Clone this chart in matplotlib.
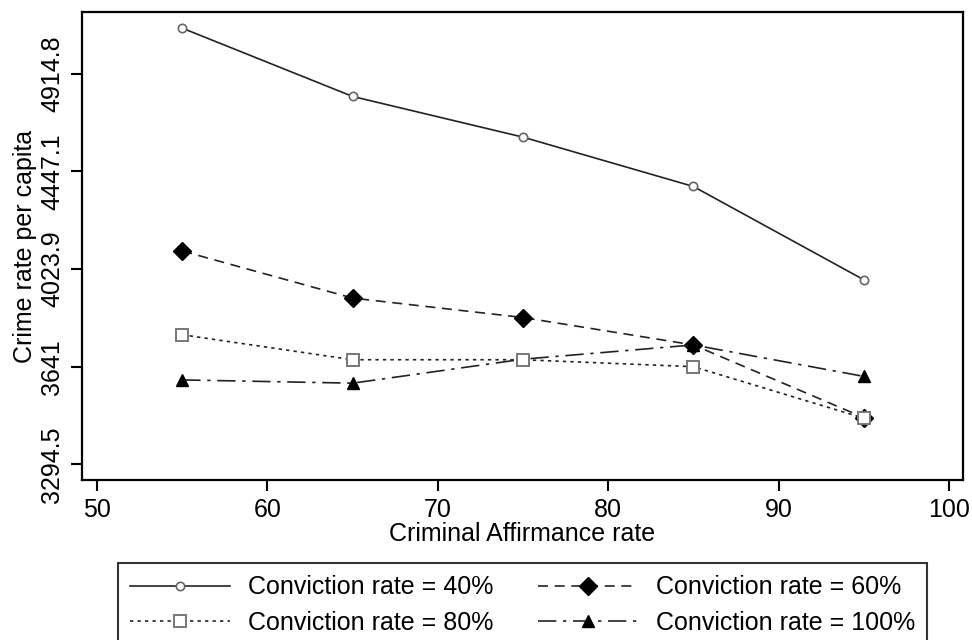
import matplotlib
matplotlib.use("Agg")
import matplotlib.pyplot as plt

plt.rcParams['font.family'] = ['Liberation Sans', 'DejaVu Sans']

affirmance = [55, 65, 75, 85, 95]
crime_40 = [5150, 4802, 4606, 4379, 3980]
crime_60 = [4099, 3906, 3829, 3723, 3456]
crime_80 = [3762, 3667, 3667, 3641, 3454]
crime_100 = [3592, 3580, 3669, 3723, 3605]

ytick_vals = [3294.5, 3641, 4023.9, 4447.1, 4914.8]
ytick_labels = ["3294.5", "3641", "4023.9", "4447.1", "4914.8"]
xtick_vals = [50, 60, 70, 80, 90, 100]

fig = plt.figure(figsize=(9.72, 6.4), dpi=100)
ax = fig.add_axes([0.0844, 0.25, 0.9063, 0.7313])

l40, = ax.plot(affirmance, crime_40, color='#222222', lw=1.2, ls='-',
               marker='o', ms=6, mfc='white', mec='#666666', mew=1.2,
               label='Conviction rate = 40%')
l60, = ax.plot(affirmance, crime_60, color='#222222', lw=1.2, dashes=(6, 4),
               marker='D', ms=9, mfc='black', mec='black',
               label='Conviction rate = 60%')
l80, = ax.plot(affirmance, crime_80, color='#222222', lw=1.2, dashes=(2, 2.5),
               marker='s', ms=9, mfc='white', mec='#777777', mew=1.4,
               label='Conviction rate = 80%')
l100, = ax.plot(affirmance, crime_100, color='#222222', lw=1.2, dashes=(11, 4, 2, 4),
                marker='^', ms=9, mfc='black', mec='black',
                label='Conviction rate = 100%')
l80.set_zorder(4)

ax.set_yscale('log')
ax.set_ylim(3242, 5236)
ax.set_xlim(49.12, 100.82)
ax.minorticks_off()
ax.set_yticks(ytick_vals)
ax.set_yticklabels(ytick_labels, rotation=90, va='center')
ax.set_xticks(xtick_vals)
ax.set_xticklabels([str(v) for v in xtick_vals])
ax.tick_params(axis='both', direction='out', length=8, width=1.5, labelsize=18, pad=5)

for s in ax.spines.values():
    s.set_linewidth(1.6)

ax.set_xlabel("Criminal Affirmance rate", fontsize=18, labelpad=0)
ax.set_ylabel("Crime rate per capita", fontsize=18, labelpad=2)

# legend below the plot, 2 columns, order as in the reference
leg = ax.legend([l40, l80, l60, l100],
                [l40.get_label(), l80.get_label(), l60.get_label(), l100.get_label()],
                ncol=2, loc='upper center',
                bbox_to_anchor=(522.5 / 972, 1 - 563 / 640),
                bbox_transform=fig.transFigure, fontsize=18, frameon=True, fancybox=False,
                edgecolor='black', handlelength=4.0, handletextpad=0.7, columnspacing=1.8,
                labelspacing=0.45, borderpad=0.5, borderaxespad=0)
leg.get_frame().set_linewidth(1.5)

fig.savefig("out.png", dpi=100)
